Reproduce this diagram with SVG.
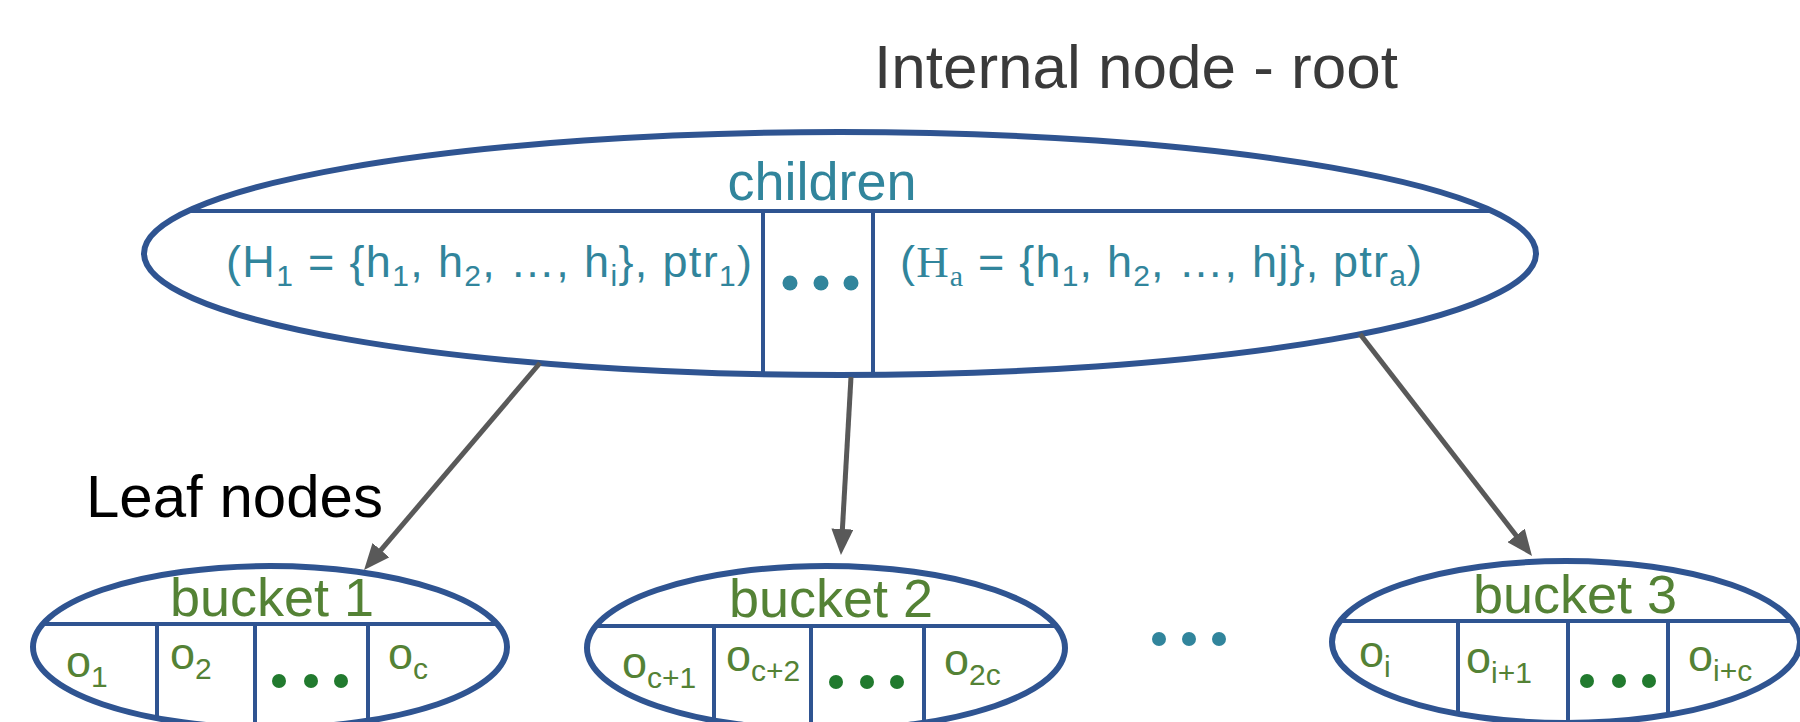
<svg xmlns="http://www.w3.org/2000/svg" width="1800" height="722" viewBox="0 0 1800 722">
<style>
.shape{fill:none;stroke:#2F5491;stroke-width:6}
.div{stroke:#2F5491;stroke-width:4}
.conn{stroke:#595959;stroke-width:5;fill:none}
.teal{fill:#31859C;font-family:"Liberation Sans",Arial,sans-serif}
.green{fill:#548235;font-family:"Liberation Sans",Arial,sans-serif}
.tdot{fill:#31859C}
.gdot{fill:#217A2E}
.cell{font-size:45px}
.sub{font-size:30px}
.title{font-family:"Liberation Sans",Arial,sans-serif}
</style>
<defs>
<marker id="ah" markerUnits="userSpaceOnUse" markerWidth="26" markerHeight="22" viewBox="0 0 26 22" refX="2" refY="11" orient="auto">
<path d="M0,0 L26,11 L0,22 z" fill="#595959"/>
</marker>
</defs>
<rect width="1800" height="722" fill="#ffffff"/>

<g id="labels">
<text class="title" x="874" y="88" font-size="62" fill="#3A3A3A">Internal node - root</text>
<text class="title" x="86" y="517" font-size="60" fill="#000000">Leaf nodes</text>
</g>

<g id="root">
<ellipse class="shape" cx="840" cy="253.5" rx="696" ry="121.5"/>
<line class="div" x1="188" y1="211" x2="1492" y2="211"/>
<line class="div" x1="763" y1="211" x2="763" y2="374"/>
<line class="div" x1="873" y1="211" x2="873" y2="374"/>
<text class="teal" x="822" y="200" font-size="54" text-anchor="middle">children</text>
<text class="teal" x="226" y="277" font-size="45" textLength="526" lengthAdjust="spacing">(H<tspan class="sub" dy="9">1</tspan><tspan dy="-9"> = {h</tspan><tspan class="sub" dy="9">1</tspan><tspan dy="-9">, h</tspan><tspan class="sub" dy="9">2</tspan><tspan dy="-9">, …, h</tspan><tspan class="sub" dy="9">i</tspan><tspan dy="-9">}, ptr</tspan><tspan class="sub" dy="9">1</tspan><tspan dy="-9">)</tspan></text>
<circle class="tdot" cx="790" cy="283" r="7.5"/>
<circle class="tdot" cx="821" cy="283" r="7.5"/>
<circle class="tdot" cx="851" cy="283" r="7.5"/>
<text class="teal" x="900" y="277" font-size="45" textLength="522" lengthAdjust="spacing">(<tspan font-family="'Liberation Serif',serif">H</tspan><tspan class="sub" dy="9" font-family="'Liberation Serif',serif">a</tspan><tspan dy="-9"> = {h</tspan><tspan class="sub" dy="9">1</tspan><tspan dy="-9">, h</tspan><tspan class="sub" dy="9">2</tspan><tspan dy="-9">, …, hj}, ptr</tspan><tspan class="sub" dy="9">a</tspan><tspan dy="-9">)</tspan></text>
</g>

<g id="bucket1">
<ellipse class="shape" cx="270" cy="647" rx="237" ry="81"/>
<line class="div" x1="43" y1="624" x2="497" y2="624"/>
<line class="div" x1="157" y1="624" x2="157" y2="718"/>
<line class="div" x1="255" y1="624" x2="255" y2="728"/>
<line class="div" x1="368" y1="624" x2="368" y2="721"/>
<text class="green" x="272" y="616" font-size="54" text-anchor="middle">bucket 1</text>
<text class="green cell" x="66" y="677">o<tspan class="sub" dy="10">1</tspan></text>
<text class="green cell" x="170" y="669">o<tspan class="sub" dy="10">2</tspan></text>
<circle class="gdot" cx="279" cy="681" r="7"/>
<circle class="gdot" cx="311" cy="681" r="7"/>
<circle class="gdot" cx="341" cy="681" r="7"/>
<text class="green cell" x="388" y="669">o<tspan class="sub" dy="10">c</tspan></text>
</g>

<g id="bucket2">
<ellipse class="shape" cx="826" cy="648" rx="239" ry="82"/>
<line class="div" x1="596" y1="626" x2="1056" y2="626"/>
<line class="div" x1="714" y1="626" x2="714" y2="719"/>
<line class="div" x1="811" y1="626" x2="811" y2="730"/>
<line class="div" x1="924" y1="626" x2="924" y2="722"/>
<text class="green" x="831" y="617" font-size="54" text-anchor="middle">bucket 2</text>
<text class="green cell" x="622" y="678">o<tspan class="sub" dy="10">c+1</tspan></text>
<text class="green cell" x="726" y="671">o<tspan class="sub" dy="10">c+2</tspan></text>
<circle class="gdot" cx="836" cy="682" r="7"/>
<circle class="gdot" cx="867" cy="682" r="7"/>
<circle class="gdot" cx="897" cy="682" r="7"/>
<text class="green cell" x="944" y="675">o<tspan class="sub" dy="10">2c</tspan></text>
</g>

<g id="gap-dots">
<circle class="tdot" cx="1159" cy="639" r="7"/>
<circle class="tdot" cx="1189" cy="639" r="7"/>
<circle class="tdot" cx="1219" cy="639" r="7"/>
</g>

<g id="bucket3">
<ellipse class="shape" cx="1566" cy="642" rx="234" ry="81"/>
<line class="div" x1="1341" y1="621" x2="1791" y2="621"/>
<line class="div" x1="1458" y1="621" x2="1458" y2="714"/>
<line class="div" x1="1568" y1="621" x2="1568" y2="724"/>
<line class="div" x1="1668" y1="621" x2="1668" y2="716"/>
<text class="green" x="1575" y="613" font-size="54" text-anchor="middle">bucket 3</text>
<text class="green cell" x="1359" y="667">o<tspan class="sub" dy="10">i</tspan></text>
<text class="green cell" x="1466" y="673">o<tspan class="sub" dy="10">i+1</tspan></text>
<circle class="gdot" cx="1587" cy="681" r="7"/>
<circle class="gdot" cx="1619" cy="681" r="7"/>
<circle class="gdot" cx="1649" cy="681" r="7"/>
<text class="green cell" x="1688" y="671">o<tspan class="sub" dy="10">i+c</tspan></text>
</g>

<g id="connectors">
<line class="conn" x1="540" y1="363" x2="379.6" y2="551.7" marker-end="url(#ah)"/>
<line class="conn" x1="851" y1="377" x2="842.3" y2="531" marker-end="url(#ah)"/>
<line class="conn" x1="1360" y1="334" x2="1517.3" y2="537" marker-end="url(#ah)"/>
</g>
</svg>
